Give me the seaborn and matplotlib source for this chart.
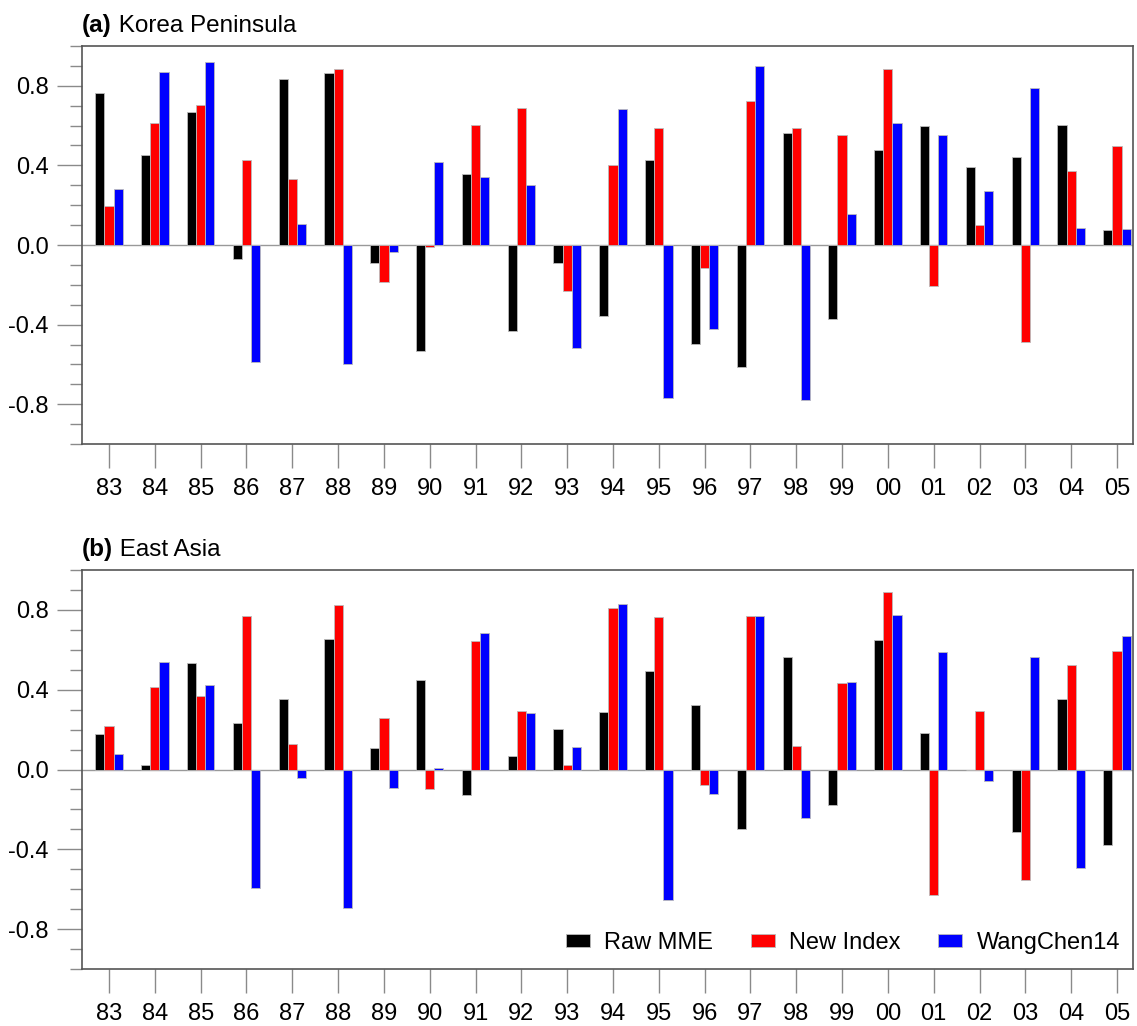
import numpy as np
import pandas as pd
import matplotlib
matplotlib.use("Agg")
import matplotlib.pyplot as plt
from matplotlib.ticker import MultipleLocator, FormatStrFormatter
import seaborn as sns

years = ["83", "84", "85", "86", "87", "88", "89", "90", "91", "92", "93", "94",
         "95", "96", "97", "98", "99", "00", "01", "02", "03", "04", "05"]
series_names = ["Raw MME", "New Index", "WangChen14"]
series_colors = ["#000000", "#ff0000", "#0000ff"]

# (a) Korea Peninsula
kp_raw = [0.765, 0.454, 0.666, -0.068, 0.833, 0.863, -0.090, -0.531, 0.356, -0.431, -0.090, -0.356,
          0.426, -0.496, -0.611, 0.565, -0.374, 0.478, 0.600, 0.392, 0.441, 0.603, 0.075]
kp_new = [0.194, 0.611, 0.706, 0.426, 0.332, 0.883, -0.187, -0.010, 0.603, 0.688, -0.232, 0.403,
          0.588, -0.117, 0.725, 0.590, 0.551, 0.883, -0.205, 0.099, -0.486, 0.372, 0.498]
kp_wc14 = [0.282, 0.868, 0.920, -0.588, 0.105, -0.600, -0.037, 0.416, 0.344, 0.304, -0.519, 0.685,
           -0.768, -0.423, 0.900, -0.777, 0.157, 0.611, 0.551, 0.271, 0.790, 0.087, 0.080]

# (b) East Asia
ea_raw = [0.176, 0.023, 0.534, 0.231, 0.351, 0.656, 0.109, 0.447, -0.126, 0.070, 0.204, 0.286,
          0.494, 0.321, -0.298, 0.562, -0.179, 0.651, 0.184, -0.003, -0.311, 0.355, -0.377]
ea_new = [0.216, 0.415, 0.367, 0.770, 0.127, 0.823, 0.258, -0.100, 0.646, 0.293, 0.022, 0.808,
          0.765, -0.077, 0.770, 0.120, 0.432, 0.890, -0.631, 0.295, -0.556, 0.524, 0.594]
ea_wc14 = [0.080, 0.541, 0.422, -0.592, -0.042, -0.695, -0.095, 0.010, 0.686, 0.285, 0.114, 0.830,
           -0.653, -0.124, 0.770, -0.241, 0.437, 0.772, 0.591, -0.060, 0.562, -0.494, 0.669]

panels = [
    ("(a)", " Korea Peninsula", [kp_raw, kp_new, kp_wc14]),
    ("(b)", " East Asia", [ea_raw, ea_new, ea_wc14]),
]

sns.set_style("white")
plt.rcParams["font.family"] = ["Liberation Sans", "DejaVu Sans"]
plt.rcParams["axes.unicode_minus"] = False
plt.rcParams["text.color"] = "black"
plt.rcParams["xtick.labelcolor"] = "black"
plt.rcParams["ytick.labelcolor"] = "black"

W, H = 1137, 1026
fig = plt.figure(figsize=(W / 100, H / 100), dpi=100)

# axes boxes in pixels: left, top, right, bottom
boxes = [(82, 46, 1133, 444), (82, 570, 1133, 969)]
frame_col = "#555555"
tick_col = "#8a8a8a"
fs = 17
title_fs = 17.5

for i, ((tag, name, vals), (l, t, r, b)) in enumerate(zip(panels, boxes)):
    ax = fig.add_axes([l / W, 1 - b / H, (r - l) / W, (b - t) / H])
    df = pd.DataFrame({
        "year": np.tile(years, 3),
        "series": np.repeat(series_names, len(years)),
        "value": np.concatenate(vals),
    })
    sns.barplot(data=df, x="year", y="value", hue="series", order=years,
                hue_order=series_names, palette=series_colors, saturation=1,
                width=0.6, gap=0, ax=ax, legend=(i == 1),
                edgecolor="#bbbbbb", linewidth=0.6)
    ax.axhline(0, color="#999999", lw=1.0, zorder=0.5)

    ax.set_ylim(-1.0, 1.0)
    ax.set_xlim(-0.59, len(years) - 1 + 0.35)
    ax.yaxis.set_major_locator(MultipleLocator(0.4))
    ax.yaxis.set_minor_locator(MultipleLocator(0.1))
    ax.yaxis.set_major_formatter(FormatStrFormatter("%.1f"))
    ax.set_xlabel("")
    ax.set_ylabel("")

    ax.tick_params(axis="y", which="major", direction="out", length=18, width=1,
                   color=tick_col, labelsize=fs, pad=6, left=True)
    ax.tick_params(axis="y", which="minor", direction="out", length=9, width=1,
                   color=tick_col, left=True)
    ax.tick_params(axis="x", which="major", direction="out", length=17.5, width=1,
                   color=tick_col, labelsize=fs, pad=7, bottom=True)
    for sp in ax.spines.values():
        sp.set_color(frame_col)
        sp.set_linewidth(1.2)

    t1 = ax.text(0, 1.0 + 9 / (b - t), tag, transform=ax.transAxes, fontsize=title_fs,
                 fontweight="bold", ha="left", va="bottom")
    ax.annotate(name, xy=(1, 0), xycoords=t1, fontsize=title_fs, ha="left", va="bottom")

    if i == 1:
        handles, labels = ax.get_legend_handles_labels()
        ax.legend(handles, labels, loc="center right", ncol=3, frameon=False,
                  fontsize=fs, handlelength=1.02, handleheight=0.5,
                  handletextpad=0.6, columnspacing=1.6, borderpad=0,
                  borderaxespad=0, bbox_to_anchor=(0.9876, (b - 943) / (b - t)))

fig.savefig("out.png", dpi=100)
